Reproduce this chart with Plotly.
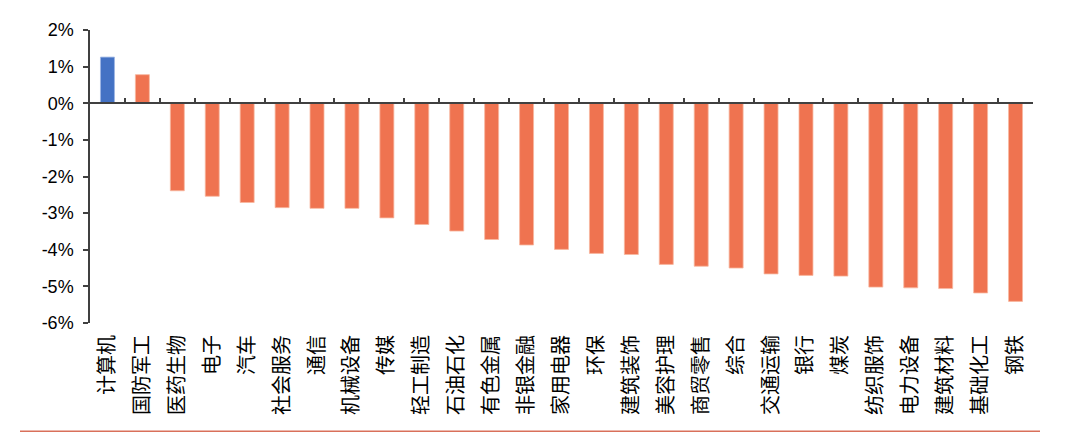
import plotly.graph_objects as go

categories = ["计算机", "国防军工", "医药生物", "电子", "汽车", "社会服务", "通信", "机械设备",
              "传媒", "轻工制造", "石油石化", "有色金属", "非银金融", "家用电器", "环保", "建筑装饰",
              "美容护理", "商贸零售", "综合", "交通运输", "银行", "煤炭", "纺织服饰", "电力设备",
              "建筑材料", "基础化工", "钢铁"]
values = [1.26, 0.78, -2.39, -2.54, -2.71, -2.85, -2.87, -2.87,
          -3.13, -3.31, -3.49, -3.72, -3.87, -3.99, -4.10, -4.13,
          -4.40, -4.45, -4.50, -4.66, -4.70, -4.72, -5.02, -5.04,
          -5.06, -5.18, -5.41]
highlight = "计算机"
y_ticks = [2, 1, 0, -1, -2, -3, -4, -5, -6]
y_tick_text = [f"{v}%" for v in y_ticks]

BLUE = "#4472C4"
ORANGE = "#EF7350"
AXIS = "#404040"
n = len(categories)
xpos = list(range(n))
colors = [BLUE if c == highlight else ORANGE for c in categories]
edges = ["#9DB5E3" if c == highlight else "#F8B8A0" for c in categories]

fig = go.Figure()
fig.add_trace(go.Bar(
    x=xpos, y=values, marker=dict(color=colors, line=dict(color=edges, width=0.8)),
    width=0.4, showlegend=False, hoverinfo="skip",
))
# invisible companion trace so the zero-line axis (x2) is rendered
fig.add_trace(go.Scatter(x=xpos, y=values, xaxis="x2", mode="none",
                         showlegend=False, hoverinfo="skip"))

ymin, ymax = -6, 2
zero_pos = (0 - ymin) / (ymax - ymin)

# page is offset by the browser's 8px body margin
L, T = 82, 20
PW, PH = 943, 295
fig.update_layout(
    width=1080, height=437,
    margin=dict(l=L, r=1080 - L - PW, t=T, b=437 - T - PH),
    paper_bgcolor="white", plot_bgcolor="white",
    font=dict(family="Liberation Sans, Arial, sans-serif", color="#000"),
    xaxis=dict(
        range=[-0.5, n - 0.5], tickmode="array", tickvals=xpos, ticktext=categories,
        tickangle=-90, showline=False, ticks="", showgrid=False, zeroline=False,
        tickfont=dict(family="Noto Sans CJK SC", size=20, color="#000"),
        ticklabelstandoff=7,
    ),
    xaxis2=dict(
        overlaying="x", anchor="free", position=zero_pos, side="bottom",
        range=[-0.5, n - 0.5], tickmode="array", tickvals=[i - 0.5 for i in range(n + 1)],
        showticklabels=False, ticks="inside", ticklen=5, tickwidth=1.5, tickcolor=AXIS,
        showline=True, linecolor=AXIS, linewidth=1.5, showgrid=False, zeroline=False,
    ),
    yaxis=dict(
        range=[ymin, ymax], tickmode="array", tickvals=y_ticks, ticktext=y_tick_text,
        showline=True, linecolor=AXIS, linewidth=1.5, ticks="outside", ticklen=5,
        tickwidth=1.5, tickcolor=AXIS, showgrid=False, zeroline=False,
        tickfont=dict(family="Liberation Sans, Arial", size=18, color="#000"),
        ticklabelstandoff=6,
    ),
    shapes=[dict(type="line", xref="paper", yref="paper",
                 x0=-(L + 8 - 20) / PW, x1=(1040 - L - 8) / PW,
                 y0=-(432 - 8 - T - PH) / PH, y1=-(432 - 8 - T - PH) / PH,
                 line=dict(color="#D9705A", width=1.6))],
)

fig.write_html("out.html")
